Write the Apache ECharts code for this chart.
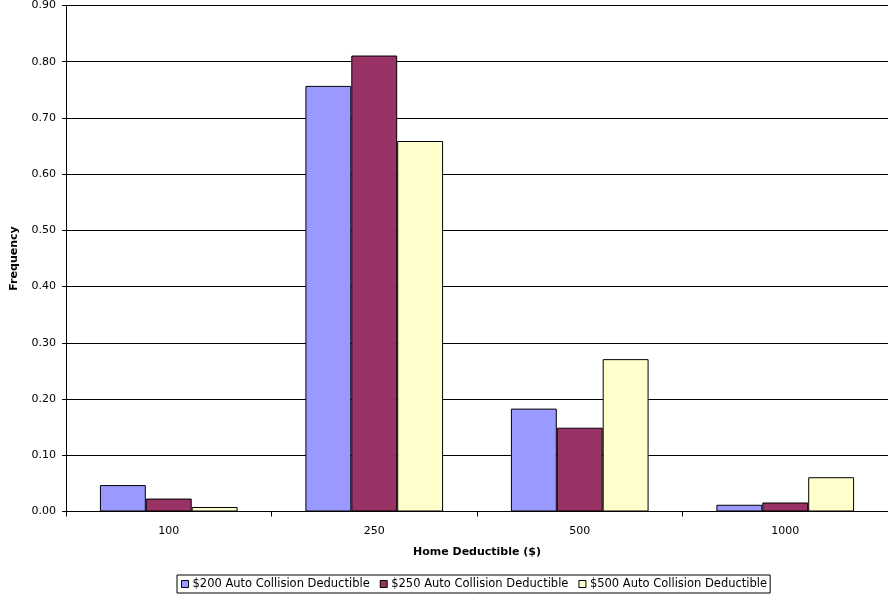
<!DOCTYPE html>
<html>
<head>
<meta charset="utf-8">
<script src="https://cdn.jsdelivr.net/npm/echarts@6/dist/echarts.min.js"></script>
<style>
  html, body { margin: 0; padding: 0; background: #fff; }
  #chart { width: 888px; height: 598px; }
</style>
</head>
<body>
<div id="chart"></div>
<script>
// Home deductible categories and frequency per auto collision deductible
const categories = ['100', '250', '500', '1000'];
const seriesNames = [
  '$200 Auto Collision Deductible',
  '$250 Auto Collision Deductible',
  '$500 Auto Collision Deductible'
];
const auto200 = [0.047, 0.757, 0.183, 0.012];
const auto250 = [0.023, 0.811, 0.149, 0.016];
const auto500 = [0.008, 0.659, 0.271, 0.061];
const colors = ['#9999FF', '#993366', '#FFFFCC'];

const font = 'DejaVu Sans, Liberation Sans, Arial, sans-serif';
const chart = echarts.init(document.getElementById('chart'), null, { renderer: 'canvas' });

const values = [auto200, auto250, auto500];

chart.setOption({
  animation: false,
  backgroundColor: '#fff',
  grid: {
    left: 66, right: 0, top: 5.5, bottom: 86.5,
    containLabel: false,
    outerBoundsMode: 'none'
  },
  legend: {
    data: seriesNames,
    left: 177,
    top: 575,
    orient: 'horizontal',
    itemWidth: 7,
    itemHeight: 7,
    itemGap: 10,
    padding: [3, 3, 3, 4],
    borderColor: '#000',
    borderWidth: 1,
    icon: 'rect',
    itemStyle: { borderColor: '#000', borderWidth: 1 },
    textStyle: { fontFamily: font, fontSize: 11.5, color: '#000', padding: [0, 0, 0, -1] }
  },
  xAxis: {
    type: 'category',
    data: categories,
    name: 'Home Deductible ($)',
    nameLocation: 'middle',
    nameGap: 35,
    nameTextStyle: { fontFamily: font, fontSize: 11, fontWeight: 'bold', color: '#000' },
    axisLine: { lineStyle: { color: '#000', width: 1 } },
    axisTick: { show: true, length: 5, lineStyle: { color: '#000' } },
    axisLabel: { fontFamily: font, fontSize: 11, color: '#000', margin: 14 }
  },
  yAxis: {
    type: 'value',
    min: 0,
    max: 0.9,
    interval: 0.1,
    name: 'Frequency',
    nameLocation: 'middle',
    nameGap: 46,
    nameTextStyle: { fontFamily: font, fontSize: 11, fontWeight: 'bold', color: '#000' },
    axisLine: { show: true, lineStyle: { color: '#000', width: 1 } },
    axisTick: { show: true, length: 4, lineStyle: { color: '#000' } },
    axisLabel: {
      fontFamily: font, fontSize: 11, color: '#000', margin: 10,
      formatter: v => v.toFixed(2)
    },
    splitLine: { show: true, lineStyle: { color: '#000', width: 1 } }
  },
  series: seriesNames.map((name, i) => ({
    name,
    type: 'bar',
    data: values[i],
    barGap: '0%',
    barCategoryGap: '33%',
    itemStyle: { color: colors[i], borderColor: '#000', borderWidth: 1 }
  }))
});
</script>
</body>
</html>
